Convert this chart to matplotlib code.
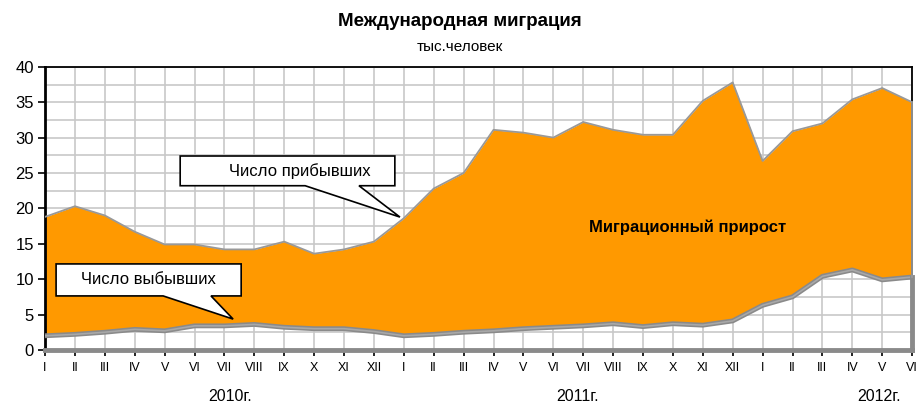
import numpy as np
import matplotlib
matplotlib.use("Agg")
import matplotlib.pyplot as plt
from matplotlib.patches import Polygon
from matplotlib.ticker import MultipleLocator
import matplotlib.transforms as mtransforms

plt.rcParams['font.family'] = ['Liberation Sans', 'DejaVu Sans']

# data: monthly international migration, thousand people
months = ['I', 'II', 'III', 'IV', 'V', 'VI', 'VII', 'VIII', 'IX', 'X', 'XI', 'XII'] * 2 + \
         ['I', 'II', 'III', 'IV', 'V', 'VI']
arrivals = [18.8, 20.3, 19.0, 16.7, 14.9, 14.9, 14.2, 14.2, 15.3, 13.6, 14.2, 15.3,
            18.6, 22.8, 25.0, 31.1, 30.7, 30.0, 32.2, 31.1, 30.4, 30.4, 35.2, 37.8,
            26.7, 30.9, 32.0, 35.4, 37.0, 35.0]
departures = [2.0, 2.2, 2.5, 2.9, 2.7, 3.4, 3.4, 3.6, 3.2, 3.0, 3.0, 2.6,
              2.0, 2.2, 2.5, 2.7, 3.0, 3.2, 3.4, 3.7, 3.3, 3.7, 3.5, 4.1,
              6.3, 7.5, 10.4, 11.3, 9.9, 10.3]
years = ['2010г.', '2011г.', '2012г.']
year_pos = [6.2, 17.8, 27.9]

x = np.arange(len(months))
arr = np.array(arrivals)
dep = np.array(departures)

fig = plt.figure(figsize=(9.19, 4.05), dpi=100)
ax = fig.add_axes([0.049, 0.136, 0.9435, 0.699])

ax.set_xlim(0, len(months) - 1)
ax.set_ylim(0, 40)

# grid
ax.set_xticks(x)
ax.set_xticklabels(months, fontsize=9)
ax.yaxis.set_major_locator(MultipleLocator(5))
ax.yaxis.set_minor_locator(MultipleLocator(2.5))
ax.grid(True, which='both', color='#c8c8c8', lw=1.2)
ax.set_axisbelow(True)
ax.tick_params(axis='y', which='major', labelsize=12, length=5, width=1.2, pad=3)
ax.tick_params(axis='y', which='minor', length=0)
ax.tick_params(axis='x', length=4, width=1.2, pad=5)

for side in ['left', 'bottom']:
    ax.spines[side].set_linewidth(2)
for side in ['top', 'right']:
    ax.spines[side].set_linewidth(1.3)

# net migration area
ax.fill_between(x, dep, arr, color='#ff9900', lw=0, zorder=2)
ax.plot(x, arr, color='#999999', lw=1.3, zorder=3)
ax.plot(x, dep, color='#8a8a8a', lw=3.5, zorder=3)
ax.plot(x, dep, color='#a8a8a8', lw=1.2, zorder=3)
ax.plot(x, np.zeros(len(x)), color='#8a8a8a', lw=3.5, zorder=3, clip_on=False)
ax.plot([x[-1], x[-1]], [0, dep[-1]], color='#8a8a8a', lw=3.5, zorder=3, clip_on=False)
ax.plot([x[-1], x[-1]], [dep[-1], arr[-1]], color='#999999', lw=1.3, zorder=3, clip_on=False)

ax.text(21.5, 17.4, 'Миграционный прирост', fontsize=12, fontweight='bold',
        ha='center', va='center', zorder=5)

# callouts
def callout(ax, x0, x1, y0, y1, b0, b1, tip, label, dx=0):
    pts = [(x0, y1), (x1, y1), (x1, y0), (b1, y0), tip, (b0, y0), (x0, y0)]
    ax.add_patch(Polygon(pts, closed=True, fc='white', ec='black', lw=1.2,
                         zorder=6, clip_on=False))
    ax.text((x0 + x1) / 2 + dx, (y0 + y1) / 2, label, fontsize=12,
            ha='center', va='center', zorder=7)

tip_a = (11.87, np.interp(11.87, x, arr) + 0.6)
callout(ax, 4.52, 11.7, 23.2, 27.4, 8.7, 10.5, tip_a, 'Число прибывших', dx=0.4)
tip_d = (6.29, np.interp(6.29, x, dep) + 0.9)
callout(ax, 0.37, 6.56, 7.63, 12.15, 3.95, 5.55, tip_d, 'Число выбывших')

# year labels
trans = mtransforms.blended_transform_factory(ax.transData, ax.transAxes)
for pos, yr in zip(year_pos, years):
    ax.text(pos, -0.166, yr, transform=trans, fontsize=11.5, ha='center', va='center')

fig.text(0.5, 0.947, 'Международная миграция', fontsize=13.5, fontweight='bold',
         ha='center', va='center')
fig.text(0.5, 0.884, 'тыс.человек', fontsize=11, ha='center', va='center')

fig.savefig('out.png', dpi=100)
